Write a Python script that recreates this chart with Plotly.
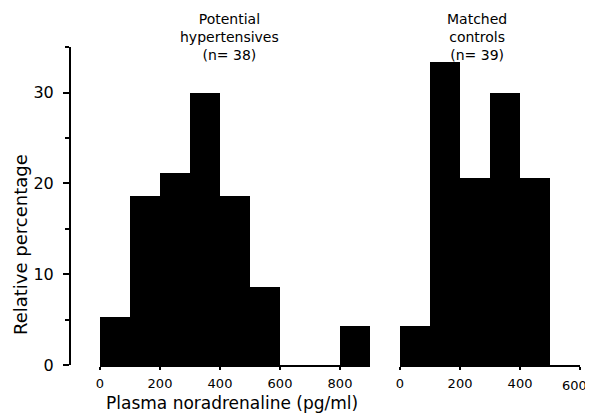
import plotly.graph_objects as go

# Data
bin_width = 100
hyp_bin_starts = [0, 100, 200, 300, 400, 500, 600, 700, 800]
hyp_values = [5.3, 18.6, 21.1, 29.9, 18.6, 8.6, 0, 0, 4.3]
ctl_bin_starts = [0, 100, 200, 300, 400]
ctl_values = [4.3, 33.3, 20.6, 29.9, 20.6]
x_ticks_left = [0, 200, 400, 600, 800]
x_ticks_right = [0, 200, 400, 600]
y_ticks = [0, 10, 20, 30]
hyp_title = ["Potential", "hypertensives", "(n= 38)"]
ctl_title = ["Matched", "controls", "(n= 39)"]

OFF = 8  # page body margin
W, H = 593 - OFF, 413 - OFF
FONT = "DejaVu Sans"

def px_x(p):
    return (p - OFF) / W

def px_y(p):
    return (H - (p - OFF)) / H

fig = go.Figure()
fig.add_trace(go.Bar(
    x=[s + bin_width / 2 for s in hyp_bin_starts], y=hyp_values, width=bin_width,
    marker=dict(color="black", line=dict(width=0)), xaxis="x", yaxis="y", showlegend=False))
fig.add_trace(go.Bar(
    x=[s + bin_width / 2 for s in ctl_bin_starts], y=ctl_values, width=bin_width,
    marker=dict(color="black", line=dict(width=0)), xaxis="x2", yaxis="y2", showlegend=False))

ydom = [px_y(365), px_y(47.3)]
xtickfont = dict(family=FONT, size=13, color="black")
ytickfont = dict(family=FONT, size=16, color="black")

def ann(text, x, y, size, angle=0):
    return dict(text=text, x=px_x(x), y=px_y(y), xref="paper", yref="paper", showarrow=False,
                xanchor="center", yanchor="middle", textangle=angle, align="center",
                font=dict(family=FONT, size=size, color="black"))

last_tick = x_ticks_right[-1]

annotations = [
    ann("<br>".join(hyp_title), 229, 37, 14),
    ann("<br>".join(ctl_title), 477, 37, 14),
    ann("Plasma noradrenaline (pg/ml)", 232, 403, 17),
    ann("Relative percentage", 20, 245, 18, -90),
    # last tick label of the right panel, kept inside the window edge
    dict(text=str(last_tick), x=last_tick, xref="x2", y=px_y(385), yref="paper", showarrow=False,
         xanchor="right", yanchor="middle", xshift=9, font=xtickfont),
]

fig.update_layout(
    width=W, height=H,
    autosize=False,
    margin=dict(l=0, r=0, t=0, b=0, pad=0),
    paper_bgcolor="white", plot_bgcolor="white",
    bargap=0,
    xaxis=dict(domain=[px_x(100), px_x(370)], range=[0, 900], anchor="y", automargin=False,
               showline=True, linecolor="black", linewidth=2,
               ticks="outside", ticklen=3, tickwidth=2, tickcolor="black", ticklabelstandoff=2,
               tickvals=x_ticks_left, tickfont=xtickfont, showgrid=False, zeroline=False),
    xaxis2=dict(domain=[px_x(400), px_x(580.2)], range=[0, 600.5], anchor="y2", automargin=False,
                showline=True, linecolor="black", linewidth=2,
                ticks="outside", ticklen=3, tickwidth=2, tickcolor="black", ticklabelstandoff=2,
                tickvals=x_ticks_right,
                ticktext=[str(v) if v != last_tick else "" for v in x_ticks_right],
                tickfont=xtickfont, showgrid=False, zeroline=False),
    yaxis=dict(domain=ydom, range=[0, 35], anchor="free", position=px_x(70), automargin=False,
               showline=True, linecolor="black", linewidth=2,
               ticks="outside", ticklen=6, tickwidth=2, tickcolor="black", ticklabelstandoff=6,
               tickvals=y_ticks, tickfont=ytickfont, showgrid=False, zeroline=False,
               minor=dict(dtick=5, ticks="outside", ticklen=4, tickwidth=2, tickcolor="black")),
    yaxis2=dict(domain=ydom, range=[0, 35], anchor="x2", visible=False, automargin=False),
    annotations=annotations,
)

fig.write_html("out.html")
